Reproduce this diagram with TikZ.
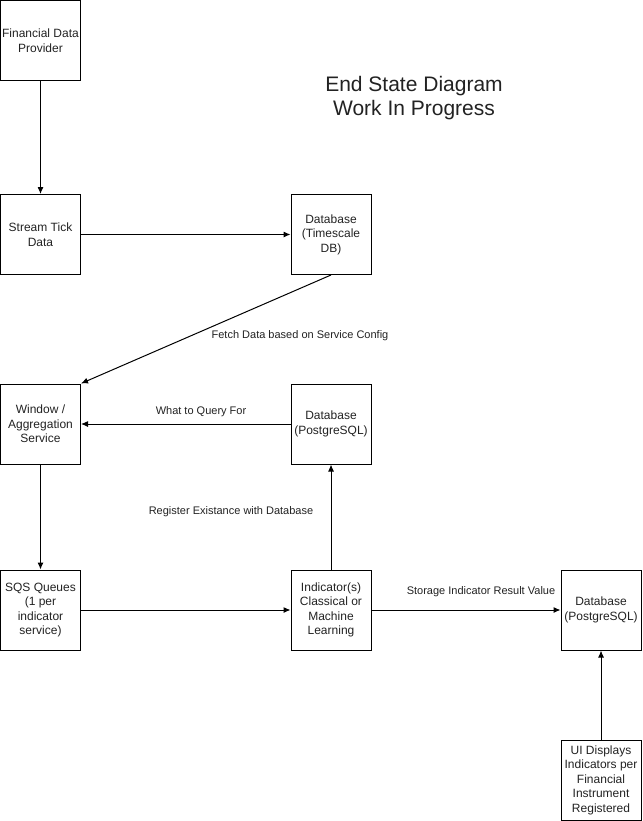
\documentclass[tikz,border=0pt]{standalone}
\usepackage{fontspec}
\setmainfont{Liberation Sans}
\usetikzlibrary{arrows.meta}
\definecolor{txt}{HTML}{222222}
\tikzset{
  x=1pt, y=-1pt,
  box/.style={draw=black, line width=1pt, minimum width=80pt, minimum height=80pt,
    inner sep=0pt, align=center, font=\fontsize{12}{14.5}\selectfont, text=txt},
  conn/.style={line width=1pt, -{Latex[length=7pt,width=6pt]}},
  lbl/.style={font=\fontsize{11}{13}\selectfont, text=txt, inner sep=0pt},
}
\begin{document}
\begin{tikzpicture}
\useasboundingbox (0,0) rectangle (642,821);
\node[box] (fdp) at (40.5,40.5) {Financial Data\\Provider};
\node[box] (std) at (40.5,234.5) {Stream Tick\\Data};
\node[box] (tdb) at (331,234.5) {Database\\(Timescale\\DB)};
\node[box] (win) at (40.5,424) {Window /\\Aggregation\\Service};
\node[box] (pg1) at (331,424) {Database\\(PostgreSQL)};
\node[box] (sqs) at (40.5,610) {SQS Queues\\(1 per\\indicator\\service)};
\node[box] (ind) at (331,610) {Indicator(s)\\Classical or\\Machine\\Learning};
\node[box] (pg2) at (601,610) {Database\\(PostgreSQL)};
\node[box] (ui) at (601,780) {UI Displays\\Indicators per\\Financial\\Instrument\\Registered};

\node[align=center, font=\fontsize{21}{24}\selectfont, text=txt] (title) at (414,98) {End State Diagram\\Work In Progress};

\draw[conn] (fdp.south) -- (std.north);
\draw[conn] (std.east) -- (tdb.west);
\draw[conn] (tdb.south) -- (win.north east);
\draw[conn] (win.south) -- (sqs.north);
\draw[conn] (pg1.west) -- (win.east);
\draw[conn] (ind.north) -- (pg1.south);
\draw[conn] (sqs.east) -- (ind.west);
\draw[conn] (ind.east) -- (pg2.west);
\draw[conn] (ui.north) -- (pg2.south);

\node[lbl] (l1) at (300,335.5) {Fetch Data based on Service Config};
\node[lbl] (l2) at (201,411.5) {What to Query For};
\node[lbl] (l3) at (231,511.5) {Register Existance with Database};
\node[lbl] (l4) at (481,591.5) {Storage Indicator Result Value};
\end{tikzpicture}
\end{document}
